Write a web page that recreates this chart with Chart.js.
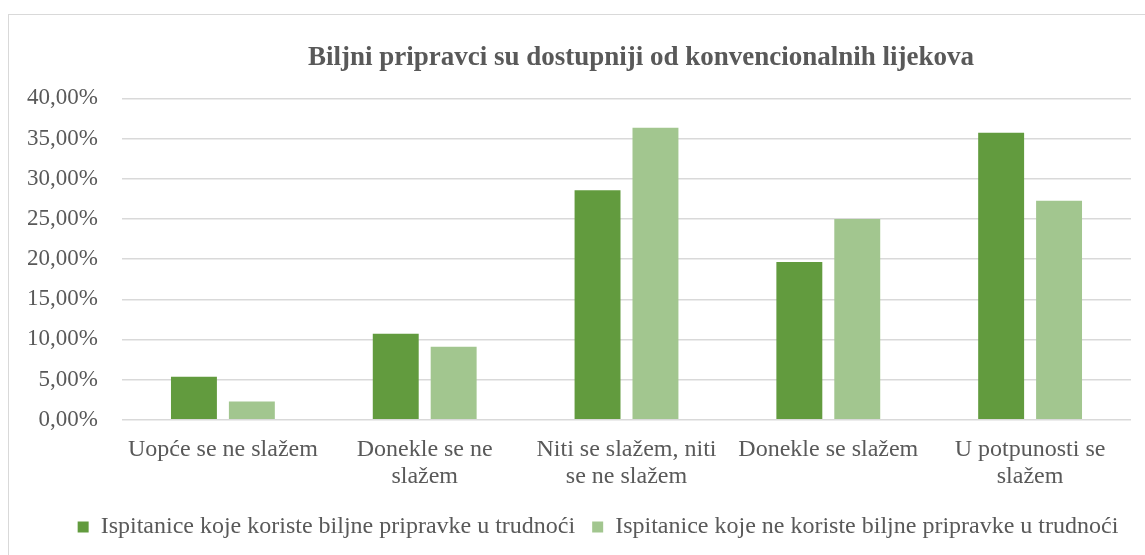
<!DOCTYPE html>
<html lang="hr">
<head>
  <meta charset="UTF-8" />
  <title>Biljni pripravci su dostupniji od konvencionalnih lijekova</title>
  <script src="https://cdn.jsdelivr.net/npm/chart.js"></script>
  <style>
    html, body {
      margin: 0;
      padding: 0;
      background: #fff;
      overflow: hidden;
    }
    #frame {
      position: absolute;
      left: 8px;
      top: 14px;
      width: 1200px;
      height: 600px;
      border: 1px solid #d9d9d9;
      overflow: hidden;
    }
    #chart {
      position: absolute;
      left: 0;
      top: 0;
    }
  </style>
</head>
<body>
  <div id="frame">
    <canvas id="chart" width="1180" height="544"></canvas>
  </div>

  <script>
    // podaci
    const kategorije = [
      'Uopće se ne slažem',
      ['Donekle se ne', 'slažem'],
      ['Niti se slažem, niti', 'se ne slažem'],
      'Donekle se slažem',
      ['U potpunosti se', 'slažem']
    ];
    const koriste = [5.36, 10.71, 28.57, 19.64, 35.71];
    const neKoriste = [2.27, 9.09, 36.36, 25.00, 27.27];
    const yTicks = [0, 5, 10, 15, 20, 25, 30, 35, 40];

    const sivaBoja = '#595959';
    const font = 'Liberation Serif, Times New Roman, serif';

    // pomak naslova i legende (Excel ih ne centrira na cijeli okvir)
    const pomak = {
      id: 'pomak',
      afterLayout(chart) {
        if (chart.titleBlock) { chart.titleBlock.left += 71; chart.titleBlock.right += 71; }
        if (chart.legend) { chart.legend.left += 28; chart.legend.right += 28; }
      }
    };

    new Chart(document.getElementById('chart'), {
      type: 'bar',
      data: {
        labels: kategorije,
        datasets: [
          {
            label: 'Ispitanice koje koriste biljne pripravke u trudnoći',
            data: koriste,
            backgroundColor: '#629b3e'
          },
          {
            label: 'Ispitanice koje ne koriste biljne pripravke u trudnoći',
            data: neKoriste,
            backgroundColor: '#a2c68f'
          }
        ]
      },
      options: {
        responsive: false,
        animation: false,
        categoryPercentage: 0.574,
        barPercentage: 0.793,
        layout: { padding: { left: 0, right: 58, top: 0, bottom: 10 } },
        scales: {
          x: {
            grid: { display: false },
            border: { display: false },
            afterFit(axis) {
              axis.paddingLeft = 0;
              axis.paddingRight = 0;
            },
            ticks: {
              color: sivaBoja,
              font: { family: font, size: 24, lineHeight: 1.13 },
              padding: 8,
              maxRotation: 0,
              autoSkip: false
            }
          },
          y: {
            min: 0,
            max: 40,
            afterBuildTicks(axis) {
              axis.ticks = yTicks.map(v => ({ value: v }));
            },
            afterFit(axis) {
              axis.width = 113;
            },
            grid: { color: '#d9d9d9', lineWidth: 1.5, drawTicks: false },
            border: { display: false },
            ticks: {
              color: sivaBoja,
              font: { family: font, size: 23 },
              padding: 24,
              callback: v => v.toFixed(2).replace('.', ',') + '%'
            }
          }
        },
        plugins: {
          title: {
            display: true,
            text: 'Biljni pripravci su dostupniji od konvencionalnih lijekova',
            color: sivaBoja,
            font: { family: font, size: 27, weight: 'bold' },
            padding: { top: 27, bottom: 24 }
          },
          legend: {
            position: 'bottom',
            labels: {
              color: sivaBoja,
              font: { family: font, size: 24 },
              boxWidth: 11,
              boxHeight: 11,
              padding: 17
            }
          },
          tooltip: { enabled: false }
        }
      },
      plugins: [pomak]
    });
  </script>
</body>
</html>
